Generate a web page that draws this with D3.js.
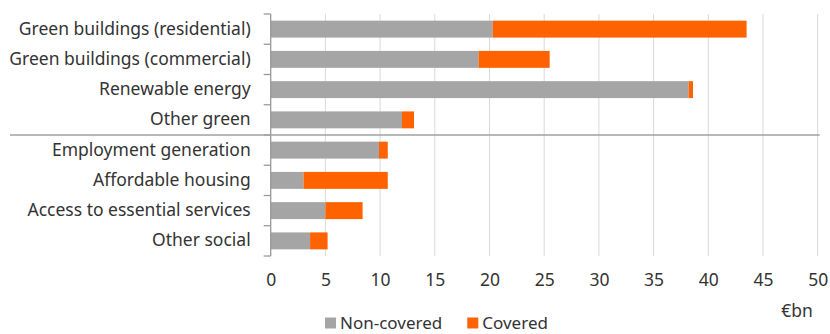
<!DOCTYPE html>
<html>
<head>
<meta charset="utf-8">
<script src="https://cdn.jsdelivr.net/npm/d3@7"></script>
<style>
  html, body { margin: 0; padding: 0; background: #fff; }
  svg { display: block; font-family: "Noto Sans", sans-serif; }
</style>
</head>
<body>
<svg id="chart" width="830" height="334"></svg>
<script>
// Sustainable bond use-of-proceeds, €bn
const categories = [
  "Green buildings (residential)",
  "Green buildings (commercial)",
  "Renewable energy",
  "Other green",
  "Employment generation",
  "Affordable housing",
  "Access to essential services",
  "Other social"
];
const nonCovered = [20.3, 19.0, 38.2, 12.0, 9.9, 3.0, 5.0, 3.6];
const covered    = [23.2, 6.5, 0.4, 1.1, 0.8, 7.7, 3.4, 1.6];
const xTicks = [0, 5, 10, 15, 20, 25, 30, 35, 40, 45, 50];
const seriesNames = ["Non-covered", "Covered"];
const colours = ["#a5a5a5", "#ff6200"];

const svg = d3.select("#chart");
const plotLeft = 270.7, plotRight = 817.7, plotTop = 14, plotBottom = 256;
const fontSize = "17.5px";
const textColour = "#333";

const x = d3.scaleLinear().domain([0, 50]).range([plotLeft, plotRight]);
const y = d3.scaleBand().domain(categories).range([plotTop, plotBottom]).paddingInner(0.44).paddingOuter(0.22);

// vertical gridlines
svg.append("g")
  .selectAll("line")
  .data(xTicks.slice(1))
  .join("line")
  .attr("x1", d => x(d)).attr("x2", d => x(d))
  .attr("y1", plotTop).attr("y2", plotBottom)
  .attr("stroke", "#d9d9d9").attr("stroke-width", 1);

// stacked bars
const rows = categories.map((c, i) => ({ cat: c, values: [nonCovered[i], covered[i]] }));
const stack = d3.stack().keys([0, 1]).value((d, k) => d.values[k]);
const layers = stack(rows);

svg.append("g")
  .selectAll("g")
  .data(layers)
  .join("g")
  .attr("fill", (d, i) => colours[i])
  .selectAll("rect")
  .data(d => d)
  .join("rect")
  .attr("x", d => x(d[0]))
  .attr("width", d => x(d[1]) - x(d[0]))
  .attr("y", d => y(d.data.cat))
  .attr("height", y.bandwidth());

// category axis
const yAxis = svg.append("g")
  .attr("transform", `translate(${plotLeft},0)`)
  .call(d3.axisLeft(y).tickSize(0).tickPadding(20));
yAxis.select(".domain").remove();
yAxis.selectAll("text")
  .attr("fill", textColour)
  .style("font-size", fontSize)
  .style("font-family", "'Noto Sans', sans-serif");

// axis line and boundary ticks between categories
const bounds = d3.range(categories.length + 1).map(i => plotTop + i * (plotBottom - plotTop) / categories.length);
svg.append("line")
  .attr("x1", plotLeft).attr("x2", plotLeft).attr("y1", plotTop).attr("y2", plotBottom)
  .attr("stroke", "#999").attr("stroke-width", 1.3);
svg.append("g")
  .selectAll("line")
  .data(bounds)
  .join("line")
  .attr("x1", plotLeft - 7).attr("x2", plotLeft)
  .attr("y1", d => d).attr("y2", d => d)
  .attr("stroke", "#999").attr("stroke-width", 1.3);

// separator between green and social categories
const sep = bounds[4];
svg.append("line")
  .attr("x1", 10).attr("x2", plotRight + 2)
  .attr("y1", sep).attr("y2", sep)
  .attr("stroke", "#a0a0a0").attr("stroke-width", 1.5);

// value axis
const xAxis = svg.append("g")
  .attr("transform", `translate(0,${plotBottom})`)
  .call(d3.axisBottom(x).tickValues(xTicks).tickSize(0).tickPadding(18));
xAxis.select(".domain").remove();
xAxis.selectAll("text")
  .attr("fill", textColour)
  .style("font-size", fontSize)
  .style("font-family", "'Noto Sans', sans-serif");

svg.append("text")
  .attr("x", 797).attr("y", 317)
  .attr("text-anchor", "middle")
  .attr("fill", textColour)
  .style("font-size", fontSize)
  .text("€bn");

// legend
const legendX = [325, 467.3];
const legend = svg.append("g")
  .selectAll("g")
  .data(seriesNames)
  .join("g")
  .attr("transform", (d, i) => `translate(${legendX[i]},317.5)`);
legend.append("rect")
  .attr("width", 11).attr("height", 11)
  .attr("fill", (d, i) => colours[i]);
legend.append("text")
  .attr("x", 15).attr("y", 11)
  .attr("fill", textColour)
  .style("font-size", "17px")
  .text(d => d);
</script>
</body>
</html>
